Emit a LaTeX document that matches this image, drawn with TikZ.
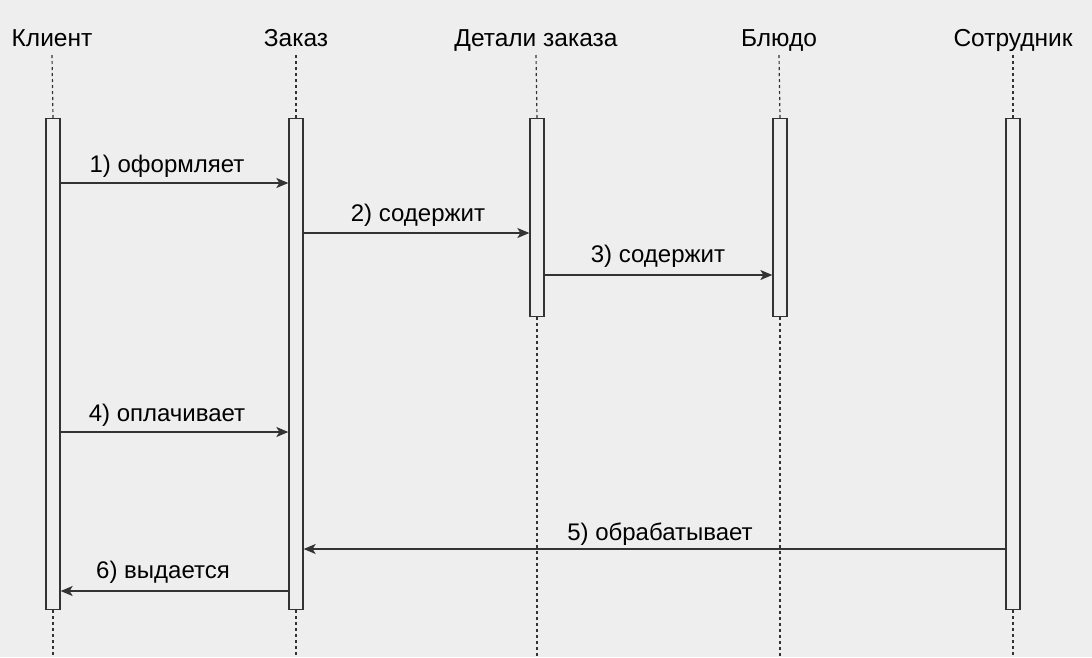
\documentclass[tikz,border=0pt]{standalone}
\usepackage{fontspec}
\setmainfont{Liberation Sans}
\usetikzlibrary{arrows.meta}
\definecolor{bg}{HTML}{EEEEEE}
\definecolor{ln}{HTML}{333333}
\begin{document}
\begin{tikzpicture}[x=1pt,y=-1pt,
  head/.style={font=\fontsize{24.5}{28}\selectfont, text=black, inner sep=0pt, anchor=base},
  lbl/.style={font=\fontsize{24}{28}\selectfont, text=black, inner sep=0pt, anchor=base},
  bar/.style={draw=ln, fill=bg, line width=1.3pt, minimum width=14pt, inner sep=0pt, anchor=north},
  life/.style={draw=ln, line width=1.2pt, dash pattern=on 3pt off 3pt},
  msg/.style={draw=ln, line width=1.3pt, -{Stealth[length=12pt,width=10pt,inset=3pt]}}]
\fill[bg] (0,0) rectangle (1092,657);
\useasboundingbox (0,0) rectangle (1092,657);
% headers
\node[head] (hK) at (52,46) {Клиент};
\node[head] (hZ) at (296,46) {Заказ};
\node[head] (hD) at (536,46) {Детали заказа};
\node[head] (hB) at (779,46) {Блюдо};
\node[head] (hS) at (1013,46) {Сотрудник};
% bottom ends of lifelines
\coordinate (eK) at (53,657);
\coordinate (eZ) at (296,657);
\coordinate (eD) at (537,657);
\coordinate (eB) at (780,657);
\coordinate (eS) at (1013,657);
% activation bars
\node[bar, minimum height=491pt] (bK) at (53,118) {};
\node[bar, minimum height=491pt] (bZ) at (296,118) {};
\node[bar, minimum height=198pt] (bD) at (537,118) {};
\node[bar, minimum height=198pt] (bB) at (780,118) {};
\node[bar, minimum height=491pt] (bS) at (1013,118) {};
% lifelines
\foreach \n in {K,Z,D,B,S}{
  \draw[life] (h\n.base |- 0,55) -- (b\n.north);
  \draw[life] (b\n.south) -- (e\n);
}
% messages
\draw[msg] (bK.east |- 0,183) -- (bZ.west |- 0,183);
\draw[msg] (bZ.east |- 0,233) -- (bD.west |- 0,233);
\draw[msg] (bD.east |- 0,275) -- (bB.west |- 0,275);
\draw[msg] (bK.east |- 0,432) -- (bZ.west |- 0,432);
\draw[msg] (bS.west |- 0,549) -- (bZ.east |- 0,549);
\draw[msg] (bZ.west |- 0,591) -- (bK.east |- 0,591);
% labels
\node[lbl] (l1) at (167,172) {1) оформляет};
\node[lbl] (l2) at (418,221) {2) содержит};
\node[lbl] (l3) at (658,262) {3) содержит};
\node[lbl] (l4) at (167,421) {4) оплачивает};
\node[lbl] (l5) at (660,540) {5) обрабатывает};
\node[lbl] (l6) at (163,578) {6) выдается};
\end{tikzpicture}
\end{document}
